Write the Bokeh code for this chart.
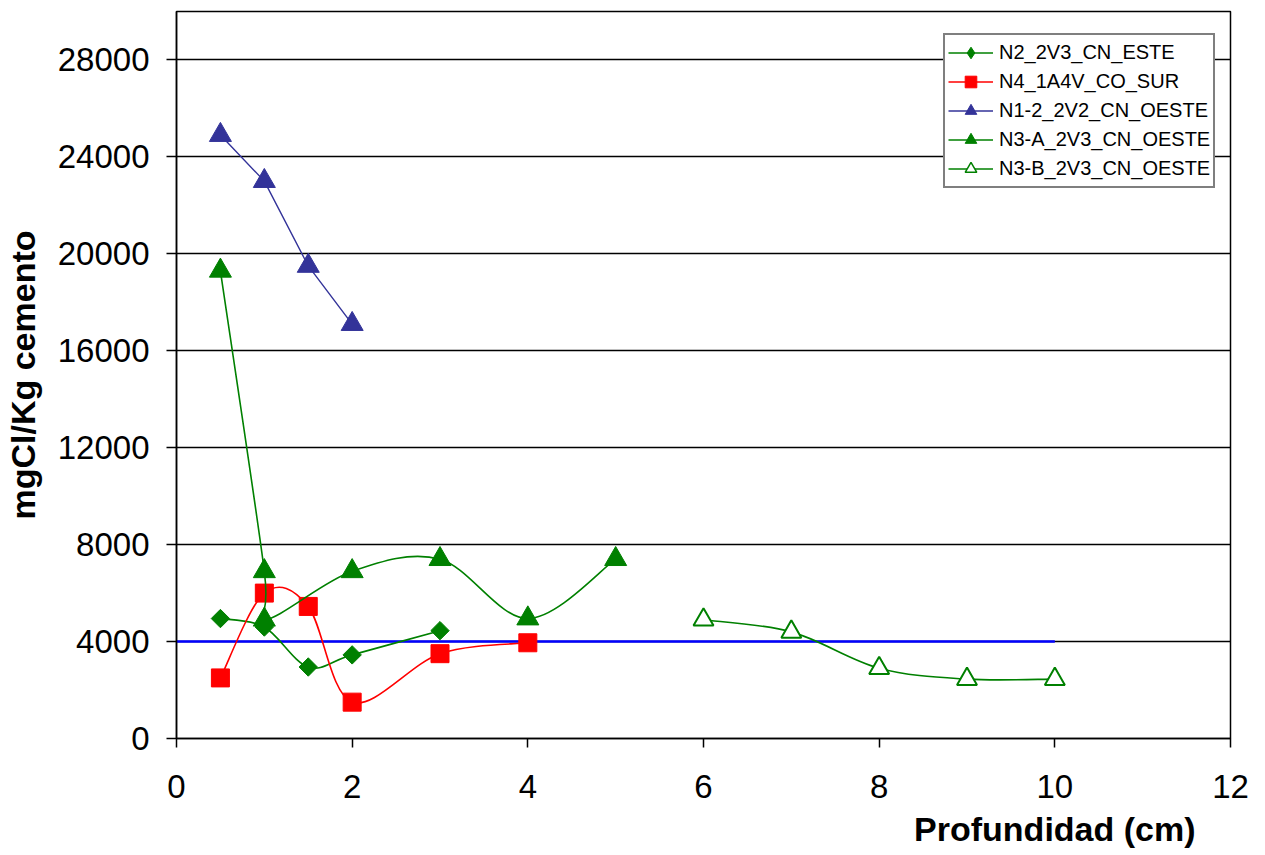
import math
from bokeh.plotting import figure
from bokeh.models import Legend, LegendItem, Title, FixedTicker, Range1d
from bokeh.embed import file_html
from bokeh.resources import INLINE

# ---------------- data ----------------
x_ticks = [0, 2, 4, 6, 8, 10, 12]
y_ticks = [0, 4000, 8000, 12000, 16000, 20000, 24000, 28000]

n2_x = [0.5, 1, 1.5, 2, 3]
n2_y = [4950, 4600, 2950, 3450, 4450]

n4_x = [0.5, 1, 1.5, 2, 3, 4]
n4_y = [2500, 6000, 5450, 1500, 3500, 3950]

n12_x = [0.5, 1, 1.5, 2]
n12_y = [24900, 23000, 19500, 17100]

n3a_x = [0.5, 1, 1, 2, 3, 4, 5]
n3a_y = [19300, 6900, 4900, 6900, 7400, 4950, 7400]

n3b_x = [6, 7, 8, 9, 10]
n3b_y = [4900, 4400, 2900, 2450, 2450]

ref_x = [0, 10]
ref_y = [4000, 4000]

labels = ["N2_2V3_CN_ESTE", "N4_1A4V_CO_SUR", "N1-2_2V2_CN_OESTE",
          "N3-A_2V3_CN_OESTE", "N3-B_2V3_CN_OESTE"]

FONT = "Liberation Sans"
GREEN = "#008000"
RED = "#FF0000"
NAVY = "#333399"

# off-screen positions used only to give the legend glyphs something to draw
OFF_X = [-5, -4]
OFF_Y = [-5000, -5000]


def smooth(xs, ys):
    """Bezier segments (Catmull-Rom style) like a smoothed line chart."""
    n = len(xs)
    P = list(zip(xs, ys))
    d = dict(x0=[], y0=[], x1=[], y1=[], cx0=[], cy0=[], cx1=[], cy1=[])
    for i in range(n - 1):
        p0 = P[i - 1] if i > 0 else P[i]
        p1 = P[i]
        p2 = P[i + 1]
        p3 = P[i + 2] if i + 2 < n else P[i + 1]
        d["x0"].append(p1[0]); d["y0"].append(p1[1])
        d["x1"].append(p2[0]); d["y1"].append(p2[1])
        d["cx0"].append(p1[0] + (p2[0] - p0[0]) / 6)
        d["cy0"].append(p1[1] + (p2[1] - p0[1]) / 6)
        d["cx1"].append(p2[0] - (p3[0] - p1[0]) / 6)
        d["cy1"].append(p2[1] - (p3[1] - p1[1]) / 6)
    return d


p = figure(width=1257, height=855, output_backend="svg", toolbar_location=None,
           x_range=Range1d(0, 12), y_range=Range1d(0, 30000),
           min_border_left=174, min_border_right=27, min_border_top=11,
           min_border_bottom=117)
p.background_fill_color = "white"
p.border_fill_color = "white"
p.outline_line_color = "black"
p.outline_line_width = 1.5

# axes
p.xaxis.ticker = FixedTicker(ticks=x_ticks)
p.yaxis.ticker = FixedTicker(ticks=y_ticks)
for ax in (p.xaxis[0], p.yaxis[0]):
    ax.axis_line_color = "black"
    ax.axis_line_width = 1.5
    ax.major_tick_line_color = "black"
    ax.major_tick_line_width = 1.5
    ax.major_tick_in = 0
    ax.minor_tick_line_color = None
    ax.major_label_text_font = FONT
    ax.major_label_text_font_size = "33px"
    ax.major_label_text_color = "black"
p.xaxis.major_tick_out = 9
p.xaxis.major_label_standoff = 27
p.yaxis.major_tick_out = 10
p.yaxis.major_label_standoff = 17

p.yaxis.axis_label = "mgCl/Kg cemento"
p.yaxis.axis_label_text_font = FONT
p.yaxis.axis_label_text_font_size = "34px"
p.yaxis.axis_label_text_font_style = "bold"
p.yaxis.axis_label_text_color = "black"
p.yaxis.axis_label_standoff = 13

# x-axis title, right-aligned under the frame
p.add_layout(Title(text="Profundidad (cm)", align="right", offset=35,
                   text_font=FONT, text_font_size="34px", text_font_style="bold",
                   text_color="black", standoff=15), "below")

p.xgrid.grid_line_color = None
p.ygrid.grid_line_color = "black"
p.ygrid.grid_line_width = 1.3

# horizontal reference line
p.line(ref_x, ref_y, line_color="#0000FF", line_width=2.5)

series = [
    (n2_x, n2_y, GREEN, True,
     dict(marker="square", size=13, angle=math.pi / 4, fill_color=GREEN, line_color=GREEN),
     dict(marker="diamond", fill_color=GREEN, line_color=GREEN)),
    (n4_x, n4_y, RED, True,
     dict(marker="square", size=18, fill_color=RED, line_color=RED),
     dict(marker="square", fill_color=RED, line_color=RED)),
    (n12_x, n12_y, NAVY, False,
     dict(marker="triangle", size=22, fill_color=NAVY, line_color=NAVY),
     dict(marker="triangle", fill_color=NAVY, line_color=NAVY)),
    (n3a_x, n3a_y, GREEN, True,
     dict(marker="triangle", size=22, fill_color=GREEN, line_color=GREEN),
     dict(marker="triangle", fill_color=GREEN, line_color=GREEN)),
    (n3b_x, n3b_y, GREEN, True,
     dict(marker="triangle", size=20, fill_color="white", line_color=GREEN, line_width=2),
     dict(marker="triangle", fill_color="white", line_color=GREEN, line_width=1.5)),
]

items = []
for (xs, ys, col, is_smooth, mk, lmk), lab in zip(series, labels):
    if is_smooth:
        d = smooth(xs, ys)
        p.bezier(x0=d["x0"], y0=d["y0"], x1=d["x1"], y1=d["y1"],
                 cx0=d["cx0"], cy0=d["cy0"], cx1=d["cx1"], cy1=d["cy1"],
                 line_color=col, line_width=1.6)
    else:
        p.line(x=xs, y=ys, line_color=col, line_width=1.4)
    p.scatter(x=xs, y=ys, **mk)
    leg_line = p.line(x=OFF_X, y=OFF_Y, line_color=col, line_width=1.6)
    leg_mark = p.scatter(x=OFF_X[:1], y=OFF_Y[:1], **lmk)
    items.append(LegendItem(label=lab, renderers=[leg_line, leg_mark]))

legend = Legend(items=items, location=(767, 550))
legend.label_text_font = FONT
legend.label_text_font_size = "20px"
legend.label_text_color = "black"
legend.glyph_width = 45
legend.glyph_height = 29
legend.label_height = 29
legend.label_standoff = 6
legend.spacing = 0
legend.padding = 3
legend.margin = 0
legend.border_line_color = "black"
legend.border_line_width = 2
legend.background_fill_color = "white"
legend.background_fill_alpha = 1.0
p.add_layout(legend, "center")

open("out.html", "w").write(file_html(p, INLINE))
